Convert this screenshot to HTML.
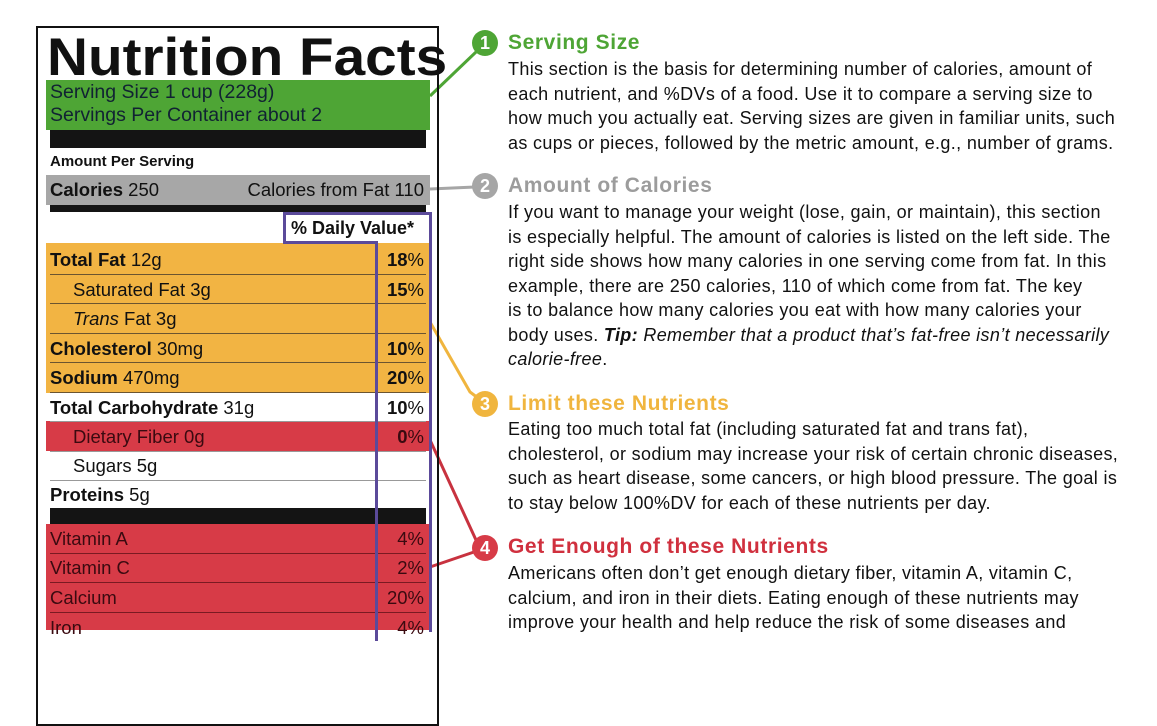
<!DOCTYPE html>
<html><head><meta charset="utf-8"><style>
*{margin:0;padding:0;box-sizing:border-box}
body{width:1157px;height:630px;background:#fff;position:relative;overflow:hidden;font-family:"Liberation Sans",sans-serif;color:#111}
.a{position:absolute}
.row{position:absolute;left:46px;width:384px;font-size:18.5px;line-height:29px;padding-left:4px;white-space:nowrap}
.row .p{position:absolute;right:6px;top:0}
.ln{position:absolute;left:50px;width:376px;height:1px;background:#6b5530}
.txt{position:absolute;left:508px;font-size:18px;letter-spacing:0.35px;line-height:24.5px;color:#111;white-space:nowrap}
.h{position:absolute;left:508px;font-size:21px;letter-spacing:0.6px;font-weight:bold;white-space:nowrap}
.c{position:absolute;width:26px;height:26px;border-radius:50%;color:#fff;font-weight:bold;font-size:18px;text-align:center;line-height:26px}
</style></head><body>
<svg class="a" style="left:0;top:0" width="1157" height="630">
<line x1="430" y1="96" x2="476" y2="52" stroke="#4ea535" stroke-width="3"/>
<line x1="430" y1="189" x2="475" y2="187" stroke="#a6a6a6" stroke-width="3"/>
<polyline points="430,322 470,392 478,398" fill="none" stroke="#f0b53e" stroke-width="3"/>
<line x1="430" y1="440" x2="476" y2="540" stroke="#c8323f" stroke-width="3"/>
<line x1="430" y1="567" x2="474" y2="552" stroke="#c8323f" stroke-width="3"/>
</svg>
<div class="a" style="left:36px;top:26px;width:403px;height:700px;border:2px solid #111"></div>
<div class="a" style="left:47px;top:29px;font-size:53px;font-weight:900;line-height:58px;transform:scaleX(1.07);transform-origin:left top;white-space:nowrap">Nutrition Facts</div>
<div class="a" style="left:46px;top:80px;width:384px;height:50px;background:#4ea535;color:#123;font-size:19.5px;line-height:23px;padding:1px 0 0 4px;white-space:nowrap">Serving Size 1 cup (228g)<br>Servings Per Container about 2</div>
<div class="a" style="left:50px;top:130px;width:376px;height:18px;background:#141414"></div>
<div class="a" style="left:50px;top:153px;font-size:15px;font-weight:bold">Amount Per Serving</div>
<div class="row" style="top:175px;height:30px;background:#a7a7a7;line-height:30px"><b>Calories</b> 250<span class="p">Calories from Fat 110</span></div>
<div class="a" style="left:50px;top:205px;width:376px;height:7px;background:#141414"></div>
<div class="a" style="left:291px;top:214px;font-size:18px;font-weight:bold;line-height:28px;white-space:nowrap">% Daily Value*</div>
<div class="a" style="left:46px;top:243px;width:384px;height:150px;background:#f2b443"></div>
<div class="row" style="top:245px"><b>Total Fat</b> 12g<span class="p"><b>18</b>%</span></div>
<div class="row" style="top:275px;padding-left:27px">Saturated Fat 3g<span class="p"><b>15</b>%</span></div>
<div class="row" style="top:304px;padding-left:27px"><i>Trans</i> Fat 3g</div>
<div class="row" style="top:334px"><b>Cholesterol</b> 30mg<span class="p"><b>10</b>%</span></div>
<div class="row" style="top:363px"><b>Sodium</b> 470mg<span class="p"><b>20</b>%</span></div>
<div class="row" style="top:393px"><b>Total Carbohydrate</b> 31g<span class="p"><b>10</b>%</span></div>
<div class="a" style="left:46px;top:421px;width:384px;height:30px;background:#d73b47"></div>
<div class="row" style="top:422px;padding-left:27px;color:#3a0a10">Dietary Fiber 0g<span class="p"><b>0</b>%</span></div>
<div class="row" style="top:451px;padding-left:27px">Sugars 5g</div>
<div class="row" style="top:480px"><b>Proteins</b> 5g</div>
<div class="a" style="left:50px;top:508px;width:376px;height:16px;background:#141414"></div>
<div class="a" style="left:46px;top:524px;width:384px;height:106px;background:#d73b47"></div>
<div class="row" style="top:524px;color:#3a0a10">Vitamin A<span class="p">4%</span></div>
<div class="row" style="top:553px;color:#3a0a10">Vitamin C<span class="p">2%</span></div>
<div class="row" style="top:583px;color:#3a0a10">Calcium<span class="p">20%</span></div>
<div class="row" style="top:613px;color:#3a0a10">Iron<span class="p">4%</span></div>
<div class="ln" style="top:274px"></div><div class="ln" style="top:303px"></div><div class="ln" style="top:333px"></div><div class="ln" style="top:362px"></div><div class="ln" style="top:392px"></div>
<div class="ln" style="top:421px;background:#999"></div><div class="ln" style="top:451px;background:#999"></div><div class="ln" style="top:480px;background:#999"></div>
<div class="ln" style="top:553px;background:#7a1a22"></div><div class="ln" style="top:582px;background:#7a1a22"></div><div class="ln" style="top:612px;background:#7a1a22"></div>
<div class="a" style="left:283px;top:212px;width:149px;height:32px;border:3px solid #5b4a9a;border-bottom:none"></div>
<div class="a" style="left:283px;top:241px;width:95px;height:3px;background:#5b4a9a"></div>
<div class="a" style="left:375px;top:241px;width:3px;height:400px;background:#5b4a9a"></div>
<div class="a" style="left:429px;top:212px;width:3px;height:420px;background:#5b4a9a"></div>

<div class="c" style="left:472px;top:30px;background:#4ea535">1</div>
<div class="h" style="top:31px;color:#4ea535">Serving Size</div>
<div class="txt" style="top:57px">This section is the basis for determining number of calories, amount of<br>each nutrient, and %DVs of a food. Use it to compare a serving size to<br>how much you actually eat. Serving sizes are given in familiar units, such<br>as cups or pieces, followed by the metric amount, e.g., number of grams.</div>
<div class="c" style="left:472px;top:173px;background:#a6a6a6">2</div>
<div class="h" style="top:174px;color:#9c9c9c">Amount of Calories</div>
<div class="txt" style="top:200px">If you want to manage your weight (lose, gain, or maintain), this section<br>is especially helpful. The amount of calories is listed on the left side. The<br>right side shows how many calories in one serving come from fat. In this<br>example, there are 250 calories, 110 of which come from fat. The key<br>is to balance how many calories you eat with how many calories your<br>body uses. <b><i>Tip:</i></b> <i>Remember that a product that’s fat-free isn’t necessarily<br>calorie-free</i>.</div>
<div class="c" style="left:472px;top:391px;background:#f0b53e">3</div>
<div class="h" style="top:392px;color:#f0b53e">Limit these Nutrients</div>
<div class="txt" style="top:417px">Eating too much total fat (including saturated fat and trans fat),<br>cholesterol, or sodium may increase your risk of certain chronic diseases,<br>such as heart disease, some cancers, or high blood pressure. The goal is<br>to stay below 100%DV for each of these nutrients per day.</div>
<div class="c" style="left:472px;top:535px;background:#d73b47">4</div>
<div class="h" style="top:535px;color:#d0303e">Get Enough of these Nutrients</div>
<div class="txt" style="top:561px">Americans often don’t get enough dietary fiber, vitamin A, vitamin C,<br>calcium, and iron in their diets. Eating enough of these nutrients may<br>improve your health and help reduce the risk of some diseases and</div>
</body></html>
